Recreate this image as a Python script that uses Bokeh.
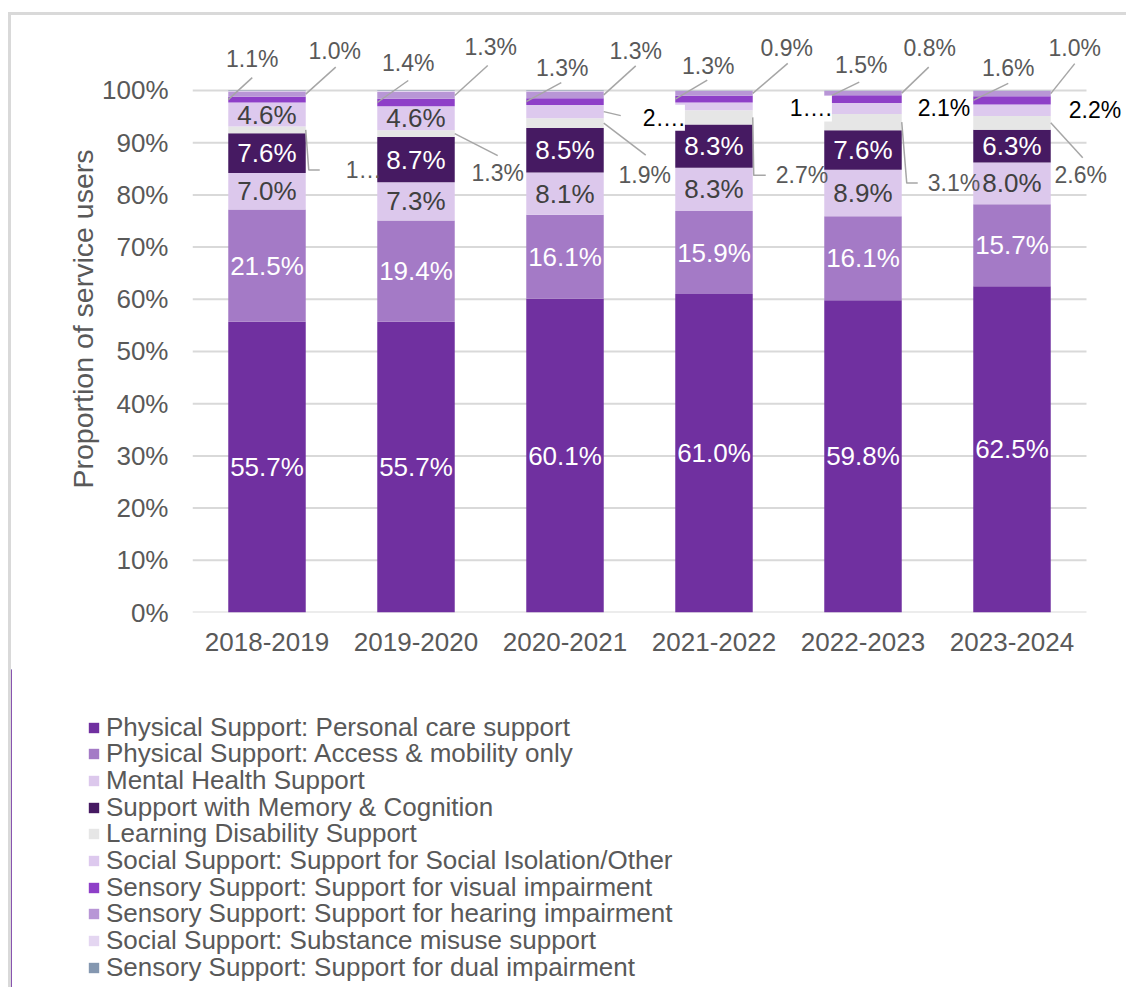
from bokeh.plotting import figure
from bokeh.layouts import column
from bokeh.models import (ColumnDataSource, Range1d, FixedTicker,
                          PrintfTickFormatter, LabelSet, Legend, LegendItem)
from bokeh.core.properties import value, field
from bokeh.embed import file_html
from bokeh.resources import INLINE

# ---------------- data ----------------
years = ["2018-2019", "2019-2020", "2020-2021", "2021-2022", "2022-2023", "2023-2024"]

personal_care       = [55.7, 55.7, 60.1, 61.0, 59.8, 62.5]
access_mobility     = [21.5, 19.4, 16.1, 15.9, 16.1, 15.7]
mental_health       = [7.0, 7.3, 8.1, 8.3, 8.9, 8.0]
memory_cognition    = [7.6, 8.7, 8.5, 8.3, 7.6, 6.3]
learning_disability = [1.3, 1.3, 1.9, 2.7, 3.1, 2.6]
social_isolation    = [4.6, 4.6, 2.5, 1.5, 2.1, 2.2]
visual_impairment   = [1.1, 1.4, 1.3, 1.3, 1.5, 1.6]
hearing_impairment  = [1.0, 1.3, 1.3, 0.9, 0.8, 1.0]
substance_misuse    = [0.1, 0.2, 0.1, 0.05, 0.05, 0.05]
dual_impairment     = [0.1, 0.1, 0.1, 0.05, 0.05, 0.05]

y_ticks = [0, 10, 20, 30, 40, 50, 60, 70, 80, 90, 100]

series_names = [
    "Physical Support: Personal care support",
    "Physical Support: Access & mobility only",
    "Mental Health Support",
    "Support with Memory & Cognition",
    "Learning Disability Support",
    "Social Support: Support for Social Isolation/Other",
    "Sensory Support: Support for visual impairment",
    "Sensory Support: Support for hearing impairment",
    "Social Support: Substance misuse support",
    "Sensory Support: Support for dual impairment",
]
series_keys = ["pc", "am", "mh", "mem", "ld", "si", "vis", "hear", "sub", "dual"]
series_values = [personal_care, access_mobility, mental_health, memory_cognition,
                 learning_disability, social_isolation, visual_impairment,
                 hearing_impairment, substance_misuse, dual_impairment]

# ---------------- styles ----------------
colors = ["#7030A0", "#A47AC6", "#DCC8EC", "#461A62", "#E6E6E6",
          "#DDC9EE", "#8E3FC8", "#B896D6", "#E4D6F1", "#8497B0"]
FONT = "Liberation Sans"
GRAY_TXT = "#595959"
DARK_TXT = "#404040"
LEADER = "#A6A6A6"
GRID = "#D9D9D9"
FRAME_LINE = "3px solid #D9D9D9"

CANVAS_W = 1118
CANVAS_H = 657
BORDER_L, BORDER_T = 181, 10
FRAME_H = 587
BORDER_B = CANVAS_H - BORDER_T - FRAME_H
FRAME_W = CANVAS_W - BORDER_L
LEG_H = 318
LEG_X = 76          # legend left edge inside the legend panel (px)
LEG_FIRST = 58      # centre of the first legend row from the panel top (px)
LEG_PITCH = 26.7    # row pitch (px)
LEG_ROW_H = 31      # height Bokeh gives one 26px legend row (px)
CAT_PX = 149.0
Y_END = 112.45
PX_X = 1.0 / CAT_PX
PX_Y = Y_END / FRAME_H
BAR_W = 0.52

# inside labels: series key -> (text colour, which years)
inside = {"pc": ("white", range(6)), "am": ("white", range(6)),
          "mh": (DARK_TXT, range(6)), "mem": ("white", range(6)),
          "si": (DARK_TXT, [0, 1])}

# callouts: key, year index, bar edge, label dx, dy (px), align, kind, leader pts (px), text
callouts = [
    ("vis", 0, -1, 24, -41, "center", "gray", [(24, -22)], None),
    ("hear", 0, 1, 29, -43, "center", "gray", [(30, -27)], None),
    ("ld", 0, 1, 40, 40, "left", "gray", [(3, 40), (14, 40)], "1\u2026"),
    ("vis", 1, -1, 31, -39, "center", "gray", [(31, -22)], None),
    ("hear", 1, 1, 36, -48, "center", "gray", [(33, -30)], None),
    ("ld", 1, 1, 43, 39, "center", "gray", [(43, 22)], None),
    ("vis", 2, -1, 36, -34, "center", "gray", [(35, -19)], None),
    ("hear", 2, 1, 32, -44, "center", "gray", [(32, -29)], None),
    ("si", 2, 1, 39, 6, "left", "black", [(17, 4)], "2\u2026."),
    ("ld", 2, 1, 41, 52, "center", "gray", [(42, 32)], None),
    ("vis", 3, -1, 33, -33, "center", "gray", [(32, -19)], None),
    ("hear", 3, 1, 34, -45, "center", "gray", [(35, -30)], None),
    ("si", 3, 1, 37, 2, "left", "black", [], "1\u2026."),
    ("ld", 3, 1, 23, 58, "left", "gray", [(1, 58), (13, 58)], None),
    ("vis", 4, -1, 37, -34, "center", "gray", [(35, -17)], None),
    ("hear", 4, 1, 28, -45, "center", "gray", [(27, -26)], None),
    ("si", 4, 1, 16, 0, "left", "black", [], None),
    ("ld", 4, 1, 26, 61, "left", "gray", [(5, 61), (16, 61)], None),
    ("vis", 5, -1, 35, -32, "center", "gray", [(35, -17)], None),
    ("hear", 5, 1, 24, -46, "center", "gray", [(24, -30)], None),
    ("si", 5, 1, 18, 0, "left", "black", [], None),
    ("ld", 5, 1, 30, 52, "center", "gray", [(32, 35)], None),
]

# ---------------- derived positions ----------------
xpos = [i + 1 for i in range(len(years))]
data = {"x": xpos, "year": years}
for k, v in zip(series_keys, series_values):
    data[k] = v
src = ColumnDataSource(data)

mids = {}
for j in range(len(years)):
    cum = 0.0
    for k, v in zip(series_keys, series_values):
        mids[(k, j)] = cum + v[j] / 2.0
        cum += v[j]
vals = {k: v for k, v in zip(series_keys, series_values)}

x_start = 0.5
x_end = x_start + FRAME_W / CAT_PX

p = figure(x_range=Range1d(x_start, x_end), y_range=Range1d(0, Y_END),
           width=CANVAS_W, height=CANVAS_H, output_backend="svg", toolbar_location=None,
           min_border_left=BORDER_L, min_border_right=0, min_border_top=BORDER_T,
           min_border_bottom=BORDER_B)
p.outline_line_color = None
p.background_fill_color = "white"

# grid lines across the category band only
p.xgrid.grid_line_color = None
p.ygrid.grid_line_color = None
p.segment(x0=[x_start] * len(y_ticks), x1=[x_start + len(years)] * len(y_ticks),
          y0=y_ticks, y1=y_ticks, line_color=GRID, line_width=2, level="underlay")

renderers = p.vbar_stack(series_keys, x="x", width=BAR_W, source=src,
                         fill_color=colors, line_color=None)

# axes
p.yaxis.ticker = FixedTicker(ticks=y_ticks)
p.yaxis.formatter = PrintfTickFormatter(format="%d%%")
p.xaxis.ticker = FixedTicker(ticks=xpos)
p.xaxis.major_label_overrides = {x: y for x, y in zip(xpos, years)}
for ax in (p.xaxis[0], p.yaxis[0]):
    ax.axis_line_color = None
    ax.major_tick_line_color = None
    ax.minor_tick_line_color = None
    ax.major_tick_out = 0
    ax.major_tick_in = 0
    ax.minor_tick_out = 0
    ax.minor_tick_in = 0
    ax.major_label_text_font = FONT
    ax.major_label_text_color = GRAY_TXT
    ax.major_label_text_font_size = "26px"
p.yaxis.major_label_standoff = 24
p.xaxis.major_label_standoff = 20
p.yaxis.axis_label = "Proportion of service users"
p.yaxis.axis_label_text_font = FONT
p.yaxis.axis_label_text_font_size = "28.5px"
p.yaxis.axis_label_text_font_style = "normal"
p.yaxis.axis_label_text_color = GRAY_TXT
p.yaxis.axis_label_standoff = 0

# inside labels
ins = {"x": [], "y": [], "text": [], "color": []}
for k, (col, idxs) in inside.items():
    for j in idxs:
        ins["x"].append(xpos[j])
        ins["y"].append(mids[(k, j)])
        ins["text"].append(f"{vals[k][j]:.1f}%")
        ins["color"].append(col)
p.add_layout(LabelSet(x="x", y="y", text="text", source=ColumnDataSource(ins),
                      text_align="center", text_baseline="middle",
                      text_color=field("color"), text_font=value(FONT),
                      text_font_size="26px"))

# callouts with leader lines
gray = {"x": [], "y": [], "text": [], "align": []}
black = {"x": [], "y": [], "text": [], "align": []}
lx, ly = [], []
for k, j, edge, dx, dy, align, kind, pts, txt in callouts:
    ax0 = xpos[j] + edge * BAR_W / 2.0
    ay0 = mids[(k, j)]
    tgt = gray if kind == "gray" else black
    tgt["x"].append(ax0 + dx * PX_X)
    tgt["y"].append(ay0 - dy * PX_Y)
    tgt["text"].append(txt if txt else f"{vals[k][j]:.1f}%")
    tgt["align"].append(align)
    if pts:
        lx.append([ax0] + [ax0 + px * PX_X for px, _ in pts])
        ly.append([ay0] + [ay0 - py * PX_Y for _, py in pts])

p.multi_line(xs=lx, ys=ly, line_color=LEADER, line_width=1.5)
p.add_layout(LabelSet(x="x", y="y", text="text", source=ColumnDataSource(gray),
                      text_align=field("align"), text_baseline="middle",
                      text_color=GRAY_TXT, text_font=value(FONT),
                      text_font_size="23px"))
p.add_layout(LabelSet(x="x", y="y", text="text", source=ColumnDataSource(black),
                      text_align=field("align"), text_baseline="middle",
                      text_color="black", text_font=value(FONT),
                      text_font_size="23px", background_fill_color="white"))

# ---------------- legend panel (a second figure below the chart) ----------------
# same stacked series as zero-width bars out of view: only their legend entries show
pl = figure(width=CANVAS_W, height=LEG_H, x_range=Range1d(100, 101), y_range=Range1d(0, 1),
            output_backend="svg", toolbar_location=None,
            x_axis_location=None, y_axis_location=None,
            min_border_left=0, min_border_right=0, min_border_top=0, min_border_bottom=0)
pl.grid.grid_line_color = None
pl.outline_line_color = None
for fig in (p, pl):
    try:
        fig.frame_align = False
    except Exception:
        pass
leg_renderers = pl.vbar_stack(series_keys, x="x", width=0, source=src,
                              fill_color=colors, line_color=None)
for i, (name, r) in enumerate(zip(series_names, leg_renderers)):
    centre = LEG_FIRST + i * LEG_PITCH
    legend = Legend(items=[LegendItem(label=name, renderers=[r])],
                    location=(LEG_X, LEG_H - centre - LEG_ROW_H / 2.0),
                    orientation="vertical", padding=0, margin=0, spacing=0,
                    glyph_width=13, glyph_height=13, label_standoff=6, label_height=20,
                    label_text_font=FONT, label_text_font_size="26px",
                    label_text_color=GRAY_TXT, border_line_color=None,
                    background_fill_alpha=0)
    pl.add_layout(legend)

p.styles = {"border-left": FRAME_LINE, "border-top": FRAME_LINE}
pl.styles = {"border-left": FRAME_LINE}
layout = column(p, pl, spacing=0)
layout.styles = {"margin-top": "12px", "margin-left": "8px"}

open("out.html", "w").write(file_html(layout, INLINE))
